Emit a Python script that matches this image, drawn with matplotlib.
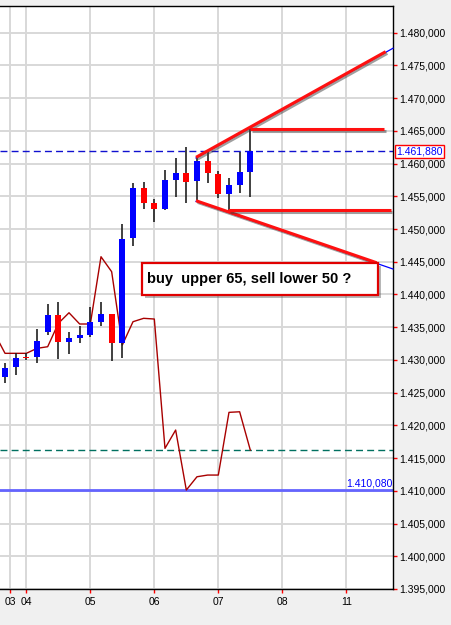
import matplotlib
matplotlib.use("Agg")
import matplotlib.pyplot as plt
import matplotlib.patheffects as pe
from matplotlib.patches import Rectangle

plt.rcParams['font.family'] = ['Liberation Sans', 'DejaVu Sans']

# 4h candles, x = bar index (6 bars per day)
bars = list(range(4, 28))
opens = [1.42735, 1.42887, 1.43045, 1.43049, 1.43431, 1.43686, 1.43269, 1.43339,
         1.43381, 1.43584, 1.43697, 1.43263, 1.44867, 1.45622, 1.45393, 1.45306,
         1.45749, 1.45851, 1.45738, 1.46044, 1.45841, 1.45530, 1.45673, 1.45876]
highs = [1.42958, 1.43101, 1.43100, 1.43472, 1.43854, 1.43889, 1.43431, 1.43523,
         1.43804, 1.43889, 1.43700, 1.45072, 1.45708, 1.45723, 1.45454, 1.45902,
         1.46090, 1.46258, 1.46096, 1.46182, 1.45887, 1.45784, 1.46182, 1.46539]
lows = [1.42643, 1.42769, 1.43000, 1.42958, 1.43381, 1.43014, 1.43090, 1.43254,
        1.43355, 1.43523, 1.42983, 1.43034, 1.44741, 1.45306, 1.45112, 1.45290,
        1.45485, 1.45402, 1.45443, 1.45708, 1.45470, 1.45265, 1.45555, 1.45494]
closes = [1.42872, 1.43024, 1.43030, 1.43294, 1.43686, 1.43269, 1.43339, 1.43381,
          1.43575, 1.43702, 1.43263, 1.44848, 1.45622, 1.45402, 1.45306, 1.45749,
          1.45851, 1.45723, 1.46044, 1.45861, 1.45530, 1.45673, 1.45876, 1.46188]

# indicator line (one point per bar, starting one bar before the first candle)
ind_bars = list(range(3, 28))
ind_vals = [1.43411, 1.43101, 1.43101, 1.43101, 1.43177, 1.43202, 1.43559, 1.43721,
            1.43549, 1.43549, 1.44577, 1.44348, 1.43228, 1.43584, 1.43636, 1.43625,
            1.41649, 1.41929, 1.41012, 1.41215, 1.41241, 1.41241, 1.42199, 1.42208,
            1.41623]

last_price = 1.46188
ind_last = 1.41623
level_line = 1.41008

# hand drawn lines: (x0, y0, x1, y1)
upper_trend = (21.91, 1.46096, 39.69, 1.47710)
lower_trend = (21.91, 1.45433, 38.85, 1.44485)
upper_level = (26.97, 1.46524, 39.53, 1.46524)
lower_level = (24.94, 1.45288, 40.16, 1.45288)

day_ticks = [4.5, 6, 12, 18, 24, 30, 36]
day_labels = ['03', '04', '05', '06', '07', '08', '11']
y_ticks = [1.395 + 0.005 * i for i in range(18)]

note = 'buy  upper 65, sell lower 50 ?'


def price_fmt(v):
    s = f"{v:.6f}"
    return s[:5] + ',' + s[5:]


fig = plt.figure(figsize=(4.52, 6.25), dpi=100, facecolor='#f0f0f0')
ax = fig.add_axes([0, 36 / 625, 393 / 452, 583 / 625])
ax.set_facecolor('white')
ax.set_xlim(3.53, 40.38)
ax.set_ylim(1.395, 1.48408)

ax.set_xticks(day_ticks)
ax.set_xticklabels(day_labels)
ax.set_yticks(y_ticks)
ax.set_yticklabels([price_fmt(v) for v in y_ticks])
ax.yaxis.tick_right()
ax.tick_params(axis='both', color='red', length=3, width=1, labelsize=7.5,
               labelcolor='black')
ax.tick_params(axis='y', pad=1.5)
ax.tick_params(axis='x', pad=3)
ax.grid(True, color='#d8d8d8', lw=1.4)
ax.set_axisbelow(True)
ax.spines['left'].set_visible(False)
for s in ['top', 'right', 'bottom']:
    ax.spines[s].set_color('black')
    ax.spines[s].set_linewidth(1)

# indicator + reference lines
ax.plot(ind_bars, ind_vals, color='#a80000', lw=1, zorder=3)
ax.axhline(ind_last, color='#007060', lw=1, ls=(0, (5, 3)), zorder=2)
ax.axhline(level_line, color='#6464ff', lw=2, zorder=2)
ax.text(40.3, level_line + 0.0002, price_fmt(level_line),
        color='blue', fontsize=7.5, ha='right', va='bottom', zorder=4)
ax.axhline(last_price, color='#1010d0', lw=1, ls=(0, (5, 3)), zorder=2)

# candles
for x, o, h, l, c in zip(bars, opens, highs, lows, closes):
    ax.vlines(x, l, h, color='#202020', lw=1.2, zorder=4)
    col = 'blue' if c >= o else 'red'
    ax.bar(x, max(abs(c - o), 0.00012), bottom=min(o, c), width=0.55,
           color=col, edgecolor='none', zorder=5)

# drawn trend lines
shadow = [pe.SimpleLineShadow(offset=(1.2, -1.2), shadow_color='#404040', alpha=0.5),
          pe.Normal()]
for x0, y0, x1, y1 in [upper_trend, lower_trend]:
    slope = (y1 - y0) / (x1 - x0)
    ax.plot([x0, 40.38], [y0 - 0.0001, y0 - 0.0001 + slope * (40.38 - x0)],
            color='blue', lw=0.9, zorder=6, clip_on=False)
for x0, y0, x1, y1 in [upper_trend, lower_trend, upper_level, lower_level]:
    ax.plot([x0, x1], [y0, y1], color='#ff1010', lw=2.2, zorder=7,
            solid_capstyle='butt', path_effects=shadow)

# note box
box = Rectangle((16.82, 1.43992), 39.0 - 16.82, 1.44485 - 1.43992,
                facecolor='white', edgecolor='#e00000', lw=1.6, zorder=8,
                path_effects=[pe.SimplePatchShadow(offset=(2, -2), alpha=0.4),
                              pe.Normal()])
ax.add_patch(box)
ax.text(17.3, 1.44238, note, fontsize=10.5, fontweight='bold', color='black',
        ha='left', va='center', zorder=9)

# current price tag on the axis
ax.text(1.008, last_price, price_fmt(last_price),
        transform=ax.get_yaxis_transform(), color='blue', fontsize=7.5,
        ha='left', va='center', zorder=10,
        bbox=dict(boxstyle='square,pad=0.15', facecolor='white',
                  edgecolor='red', lw=1))

fig.savefig('out.png', dpi=100, facecolor=fig.get_facecolor())
